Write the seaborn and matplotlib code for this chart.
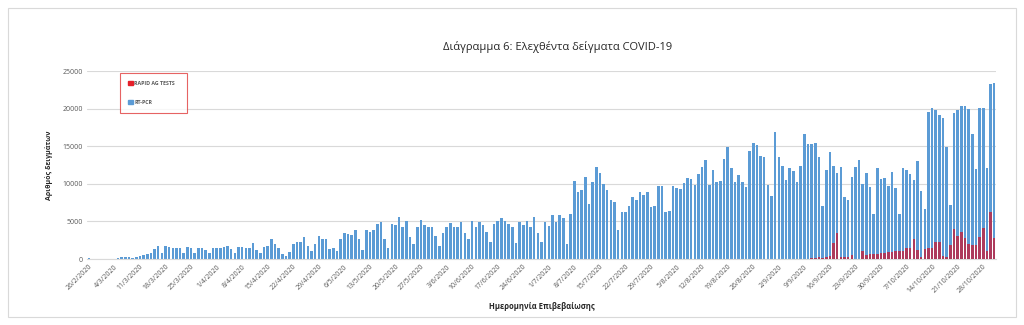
import numpy as np
import pandas as pd
import matplotlib
matplotlib.use("Agg")
import matplotlib.pyplot as plt
from matplotlib.patches import Patch, Rectangle
import seaborn as sns

# ---- data ----
start_date = "2020-02-26"
end_date = "2020-10-31"

rt_pcr = [
    90, 40, 0, 40, 0, 0, 40, 50, 100, 270,
    270, 270, 180, 300, 400, 530, 620, 800, 1330, 1680,
    750, 1730, 1550, 1500, 1500, 1420, 800, 1640, 1420, 750,
    1420, 1500, 1200, 750, 1420, 1420, 1420, 1550, 1730, 1280,
    750, 1550, 1550, 1420, 1420, 2170, 1200, 750, 1640, 1770,
    2600, 2000, 1500, 700, 450, 900, 2000, 2300, 2200, 2900,
    1700, 1000, 2000, 3000, 2700, 2700, 1300, 1500, 1000, 2600,
    3500, 3300, 3200, 3900, 2700, 1200, 3900, 3600, 3900, 4700,
    4900, 2600, 1400, 4700, 4500, 5600, 4200, 5000, 2900, 2000,
    4300, 5200, 4500, 4300, 4300, 3100, 1700, 3500, 4200, 4800,
    4300, 4200, 4900, 3500, 2600, 5100, 4200, 4900, 4500, 3600,
    2200, 4700, 5000, 5500, 5000, 4700, 4300, 2100, 4900, 4500,
    5000, 4200, 5600, 3400, 2200, 4900, 4400, 5800, 4900, 5800,
    5500, 2000, 6000, 10400, 8900, 9200, 10900, 7300, 10300, 12300,
    11500, 10000, 9200, 7800, 7600, 3900, 6200, 6300, 7100, 8200,
    7900, 8900, 8500, 8900, 6900, 7100, 9700, 9700, 6300, 6400,
    9700, 9400, 9300, 10100, 10800, 10600, 9900, 11300, 12300, 13200,
    9900, 11800, 10200, 10400, 13300, 14900, 12100, 10200, 11200, 10200,
    9600, 14400, 15400, 15200, 13700, 13600, 9800, 8400, 16900, 13600,
    12400, 10500, 12100, 11700, 10300, 12400, 16600, 15300, 15300, 15400,
    13500, 7100, 11800, 14200, 12400, 11400, 12300, 8200, 7800, 10900,
    12200, 13200, 10000, 11400, 9600, 6000, 12100, 10700, 10800, 9700,
    11600, 9500, 6000, 12100, 11800, 11300, 10500, 13000, 9100, 6600,
    19500, 20100, 19800, 19200, 18800, 14900, 7200, 19400, 19800, 20300,
    20300, 20000, 16600, 12000, 20100, 20100, 12100, 23300, 23400,
]

rapid_ag = [0] * 198 + [
    100, 150, 200, 150, 300, 400, 2100, 3400, 300, 200,
    250, 500, 0, 0, 1000, 500, 600, 700, 700, 800,
    800, 900, 900, 1000, 1100, 1100, 1400, 1500, 2600, 1200,
    300, 1300, 1400, 1500, 2200, 2300, 400, 200, 1800, 4000,
    3000, 3600, 2800, 2000, 1800, 1900, 2900, 4100, 1000, 6300, 2800,
]

series_names = ["RAPID AG TESTS", "RT-PCR"]
title = "Διάγραμμα 6: Ελεχθέντα δείγματα COVID-19"
y_label = "Αριθμός δειγμάτων"
x_label = "Ημερομηνία Επιβεβαίωσης"
y_ticks = [0, 5000, 10000, 15000, 20000, 25000]

dates = pd.date_range(start_date, end_date, freq="D")
date_labels = [f"{d.day}/{d.month}/{d.year}" for d in dates]
assert len(rt_pcr) == len(dates) == len(rapid_ag)

df = pd.DataFrame({"date": date_labels, "pcr": rt_pcr, "rapid": rapid_ag})

# ---- style ----
sns.set_style("white")
plt.rcParams["font.family"] = ["Open Sans", "DejaVu Sans"]

blue = "#5b9bd5"
red_bar = "#ad3a5c"
red_legend = "#e5202a"
grey_text = "#595959"

fig = plt.figure(figsize=(10.24, 3.25), dpi=100)
ax = fig.add_axes([87 / 1024, 1 - 259 / 325, (996 - 87) / 1024, (259 - 71) / 325])

sns.barplot(data=df, x="date", y="pcr", color=blue, saturation=1, width=0.7,
            linewidth=0, edgecolor="none", ax=ax, zorder=2)
sns.barplot(data=df, x="date", y="rapid", color=red_bar, saturation=1, width=0.7,
            linewidth=0, edgecolor="none", ax=ax, zorder=3)

ax.set_xlim(-0.5, len(dates) - 0.5)
ax.set_ylim(0, 25000)
ax.set_yticks(y_ticks)
ax.set_yticklabels([str(v) for v in y_ticks], fontsize=5, color=grey_text)
ax.yaxis.grid(True, color="#d9d9d9", linewidth=0.8, zorder=0)
ax.set_axisbelow(True)

tick_pos = list(range(0, len(dates), 7))
ax.set_xticks(tick_pos)
ax.set_xticklabels([date_labels[i] for i in tick_pos], rotation=45, ha="right",
                   rotation_mode="anchor", fontsize=5, color=grey_text)
ax.tick_params(axis="both", length=0, pad=3)

for s in ["top", "right", "left"]:
    ax.spines[s].set_visible(False)
ax.spines["bottom"].set_color("#d9d9d9")
ax.spines["bottom"].set_linewidth(0.8)

ax.set_xlabel(x_label, fontsize=5.5, fontweight="bold", color="#262626", labelpad=5)
ax.set_ylabel(y_label, fontsize=5, fontweight="bold", color="#262626", labelpad=7)

fig.text(558 / 1024, 1 - 47 / 325, title, fontsize=8, color="#262626",
         ha="center", va="center")

handles = [Patch(facecolor=red_legend, edgecolor=red_legend),
           Patch(facecolor=blue, edgecolor=blue)]
leg = fig.legend(handles, series_names, loc="upper left",
                 bbox_to_anchor=(120 / 1024, 1 - 117 / 325, 67 / 1024, 44 / 325),
                 mode="expand", fontsize=3.8, frameon=True, fancybox=False,
                 handlelength=0.9, handleheight=0.9, handletextpad=0.3,
                 labelspacing=2.6, borderpad=1.5, borderaxespad=0)
leg.get_frame().set_edgecolor("#e03c3c")
leg.get_frame().set_linewidth(0.8)
for t in leg.get_texts():
    t.set_fontweight("bold")
    t.set_color(grey_text)

fig.patches.append(Rectangle((8 / 1024, 8 / 325), 1008 / 1024, 309 / 325,
                             transform=fig.transFigure, fill=False,
                             edgecolor="#d9d9d9", linewidth=0.8))

fig.savefig("out.png", dpi=100)
